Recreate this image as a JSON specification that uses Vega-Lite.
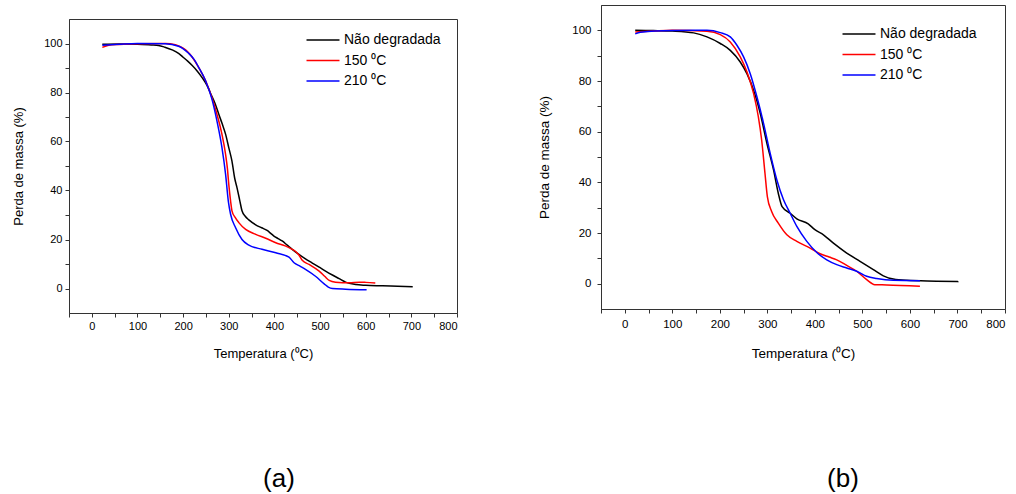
{
  "$schema": "https://vega.github.io/schema/vega-lite/v6.json",
  "padding": {"left": 12, "top": 3, "right": 5, "bottom": 0},
  "background": "white",
  "config": {
    "font": "Liberation Sans",
    "view": {"stroke": "#333", "strokeWidth": 1},
    "axis": {"domainColor": "#333", "tickColor": "#333", "labelColor": "#000", "titleColor": "#000", "labelFontSize": 11, "titleFontSize": 13, "titleFontWeight": "normal", "tickSize": 4, "grid": false, "labelPadding": 3},
    "legend": {"labelFontSize": 14, "labelColor": "#000"},
    "title": {"fontWeight": "normal", "color": "#000"}
  },
  "datasets": {
    "a": [
      {"t": 23, "m": 99.7, "s": "Não degradada"}, {"t": 60, "m": 99.8, "s": "Não degradada"}, {"t": 100, "m": 99.7, "s": "Não degradada"}, {"t": 130, "m": 99.4, "s": "Não degradada"}, {"t": 146, "m": 99.2, "s": "Não degradada"}, {"t": 160, "m": 98.5, "s": "Não degradada"}, {"t": 176, "m": 97.4, "s": "Não degradada"}, {"t": 190, "m": 96, "s": "Não degradada"}, {"t": 200, "m": 94.4, "s": "Não degradada"}, {"t": 210, "m": 92.8, "s": "Não degradada"}, {"t": 220, "m": 91, "s": "Não degradada"}, {"t": 232, "m": 88.5, "s": "Não degradada"}, {"t": 242, "m": 86, "s": "Não degradada"}, {"t": 252, "m": 83, "s": "Não degradada"}, {"t": 260, "m": 79.7, "s": "Não degradada"}, {"t": 270, "m": 75.5, "s": "Não degradada"}, {"t": 278, "m": 71.2, "s": "Não degradada"}, {"t": 286, "m": 67, "s": "Não degradada"}, {"t": 293, "m": 63, "s": "Não degradada"}, {"t": 300, "m": 57.5, "s": "Não degradada"}, {"t": 307, "m": 52, "s": "Não degradada"}, {"t": 313, "m": 45, "s": "Não degradada"}, {"t": 318, "m": 41.2, "s": "Não degradada"}, {"t": 324, "m": 36, "s": "Não degradada"}, {"t": 329, "m": 31.7, "s": "Não degradada"}, {"t": 336, "m": 29.5, "s": "Não degradada"}, {"t": 344, "m": 28, "s": "Não degradada"}, {"t": 359, "m": 26, "s": "Não degradada"}, {"t": 372, "m": 24.8, "s": "Não degradada"}, {"t": 384, "m": 23.7, "s": "Não degradada"}, {"t": 392, "m": 22.5, "s": "Não degradada"}, {"t": 399, "m": 21.4, "s": "Não degradada"}, {"t": 408, "m": 20.4, "s": "Não degradada"}, {"t": 417, "m": 19.4, "s": "Não degradada"}, {"t": 428, "m": 17.7, "s": "Não degradada"}, {"t": 439, "m": 16, "s": "Não degradada"}, {"t": 453, "m": 14, "s": "Não degradada"}, {"t": 468, "m": 12.1, "s": "Não degradada"}, {"t": 483, "m": 10.4, "s": "Não degradada"}, {"t": 498, "m": 8.7, "s": "Não degradada"}, {"t": 512, "m": 7.1, "s": "Não degradada"}, {"t": 527, "m": 5.5, "s": "Não degradada"}, {"t": 542, "m": 4, "s": "Não degradada"}, {"t": 556, "m": 2.6, "s": "Não degradada"}, {"t": 567, "m": 2, "s": "Não degradada"}, {"t": 578, "m": 1.6, "s": "Não degradada"}, {"t": 600, "m": 1.3, "s": "Não degradada"}, {"t": 637, "m": 1.1, "s": "Não degradada"}, {"t": 670, "m": 0.9, "s": "Não degradada"}, {"t": 703, "m": 0.7, "s": "Não degradada"},
      {"t": 23, "m": 98.4, "s": "150 ⁰C"}, {"t": 37, "m": 99.3, "s": "150 ⁰C"}, {"t": 60, "m": 99.6, "s": "150 ⁰C"}, {"t": 100, "m": 99.9, "s": "150 ⁰C"}, {"t": 161, "m": 100, "s": "150 ⁰C"}, {"t": 183, "m": 99.5, "s": "150 ⁰C"}, {"t": 200, "m": 98.1, "s": "150 ⁰C"}, {"t": 210, "m": 96.6, "s": "150 ⁰C"}, {"t": 220, "m": 94.4, "s": "150 ⁰C"}, {"t": 234, "m": 90.3, "s": "150 ⁰C"}, {"t": 249, "m": 84.9, "s": "150 ⁰C"}, {"t": 263, "m": 78, "s": "150 ⁰C"}, {"t": 274, "m": 71.2, "s": "150 ⁰C"}, {"t": 285, "m": 63, "s": "150 ⁰C"}, {"t": 293, "m": 54.8, "s": "150 ⁰C"}, {"t": 297, "m": 49, "s": "150 ⁰C"}, {"t": 300, "m": 42.6, "s": "150 ⁰C"}, {"t": 304, "m": 35.7, "s": "150 ⁰C"}, {"t": 307, "m": 31.7, "s": "150 ⁰C"}, {"t": 314, "m": 29, "s": "150 ⁰C"}, {"t": 322, "m": 26.9, "s": "150 ⁰C"}, {"t": 337, "m": 24.1, "s": "150 ⁰C"}, {"t": 359, "m": 22.1, "s": "150 ⁰C"}, {"t": 381, "m": 20.5, "s": "150 ⁰C"}, {"t": 403, "m": 18.7, "s": "150 ⁰C"}, {"t": 425, "m": 17.3, "s": "150 ⁰C"}, {"t": 439, "m": 16, "s": "150 ⁰C"}, {"t": 447, "m": 15, "s": "150 ⁰C"}, {"t": 454, "m": 13.6, "s": "150 ⁰C"}, {"t": 461, "m": 11.5, "s": "150 ⁰C"}, {"t": 476, "m": 9.8, "s": "150 ⁰C"}, {"t": 498, "m": 7.1, "s": "150 ⁰C"}, {"t": 510, "m": 5, "s": "150 ⁰C"}, {"t": 520, "m": 3.3, "s": "150 ⁰C"}, {"t": 534, "m": 2.6, "s": "150 ⁰C"}, {"t": 564, "m": 2.3, "s": "150 ⁰C"}, {"t": 586, "m": 2.6, "s": "150 ⁰C"}, {"t": 600, "m": 2.5, "s": "150 ⁰C"}, {"t": 621, "m": 2.2, "s": "150 ⁰C"},
      {"t": 23, "m": 99.3, "s": "210 ⁰C"}, {"t": 60, "m": 99.7, "s": "210 ⁰C"}, {"t": 100, "m": 100, "s": "210 ⁰C"}, {"t": 161, "m": 99.9, "s": "210 ⁰C"}, {"t": 190, "m": 98.9, "s": "210 ⁰C"}, {"t": 212, "m": 96, "s": "210 ⁰C"}, {"t": 224, "m": 93.5, "s": "210 ⁰C"}, {"t": 234, "m": 90.3, "s": "210 ⁰C"}, {"t": 249, "m": 84.9, "s": "210 ⁰C"}, {"t": 263, "m": 77.4, "s": "210 ⁰C"}, {"t": 274, "m": 68.5, "s": "210 ⁰C"}, {"t": 285, "m": 57.6, "s": "210 ⁰C"}, {"t": 293, "m": 46.7, "s": "210 ⁰C"}, {"t": 299, "m": 35.7, "s": "210 ⁰C"}, {"t": 304, "m": 30.3, "s": "210 ⁰C"}, {"t": 315, "m": 24.8, "s": "210 ⁰C"}, {"t": 329, "m": 20, "s": "210 ⁰C"}, {"t": 344, "m": 17.7, "s": "210 ⁰C"}, {"t": 373, "m": 16, "s": "210 ⁰C"}, {"t": 403, "m": 14.6, "s": "210 ⁰C"}, {"t": 432, "m": 12.8, "s": "210 ⁰C"}, {"t": 443, "m": 10.5, "s": "210 ⁰C"}, {"t": 456, "m": 9.1, "s": "210 ⁰C"}, {"t": 468, "m": 7.8, "s": "210 ⁰C"}, {"t": 490, "m": 5, "s": "210 ⁰C"}, {"t": 509, "m": 1.9, "s": "210 ⁰C"}, {"t": 518, "m": 0.6, "s": "210 ⁰C"}, {"t": 527, "m": 0, "s": "210 ⁰C"}, {"t": 556, "m": -0.3, "s": "210 ⁰C"}, {"t": 602, "m": -0.5, "s": "210 ⁰C"}
    ],
    "b": [
      {"t": 22, "m": 100, "s": "Não degradada"}, {"t": 60, "m": 99.9, "s": "Não degradada"}, {"t": 100, "m": 99.7, "s": "Não degradada"}, {"t": 145, "m": 99, "s": "Não degradada"}, {"t": 173, "m": 97.4, "s": "Não degradada"}, {"t": 201, "m": 94.8, "s": "Não degradada"}, {"t": 222, "m": 92.1, "s": "Não degradada"}, {"t": 243, "m": 87.5, "s": "Não degradada"}, {"t": 257, "m": 82.9, "s": "Não degradada"}, {"t": 271, "m": 76.4, "s": "Não degradada"}, {"t": 285, "m": 67.2, "s": "Não degradada"}, {"t": 299, "m": 55.4, "s": "Não degradada"}, {"t": 313, "m": 44.9, "s": "Não degradada"}, {"t": 323, "m": 35.7, "s": "Não degradada"}, {"t": 331, "m": 30.4, "s": "Não degradada"}, {"t": 348, "m": 27.8, "s": "Não degradada"}, {"t": 362, "m": 25.6, "s": "Não degradada"}, {"t": 386, "m": 23.6, "s": "Não degradada"}, {"t": 400, "m": 21.3, "s": "Não degradada"}, {"t": 418, "m": 19.3, "s": "Não degradada"}, {"t": 439, "m": 16, "s": "Não degradada"}, {"t": 467, "m": 12.1, "s": "Não degradada"}, {"t": 495, "m": 8.8, "s": "Não degradada"}, {"t": 523, "m": 5.5, "s": "Não degradada"}, {"t": 544, "m": 3.1, "s": "Não degradada"}, {"t": 565, "m": 1.8, "s": "Não degradada"}, {"t": 593, "m": 1.3, "s": "Não degradada"}, {"t": 656, "m": 1, "s": "Não degradada"}, {"t": 702, "m": 0.8, "s": "Não degradada"},
      {"t": 22, "m": 99.3, "s": "150 ⁰C"}, {"t": 61, "m": 99.7, "s": "150 ⁰C"}, {"t": 100, "m": 100, "s": "150 ⁰C"}, {"t": 173, "m": 99.6, "s": "150 ⁰C"}, {"t": 201, "m": 98.3, "s": "150 ⁰C"}, {"t": 222, "m": 95.4, "s": "150 ⁰C"}, {"t": 243, "m": 89.5, "s": "150 ⁰C"}, {"t": 257, "m": 83.6, "s": "150 ⁰C"}, {"t": 271, "m": 75.1, "s": "150 ⁰C"}, {"t": 281, "m": 65.9, "s": "150 ⁰C"}, {"t": 288, "m": 56.7, "s": "150 ⁰C"}, {"t": 295, "m": 43.6, "s": "150 ⁰C"}, {"t": 300, "m": 34.4, "s": "150 ⁰C"}, {"t": 309, "m": 28.5, "s": "150 ⁰C"}, {"t": 323, "m": 23.9, "s": "150 ⁰C"}, {"t": 341, "m": 19.3, "s": "150 ⁰C"}, {"t": 362, "m": 16.7, "s": "150 ⁰C"}, {"t": 390, "m": 14, "s": "150 ⁰C"}, {"t": 411, "m": 11.8, "s": "150 ⁰C"}, {"t": 430, "m": 10.5, "s": "150 ⁰C"}, {"t": 446, "m": 9.4, "s": "150 ⁰C"}, {"t": 467, "m": 7.2, "s": "150 ⁰C"}, {"t": 488, "m": 4.9, "s": "150 ⁰C"}, {"t": 509, "m": 1.6, "s": "150 ⁰C"}, {"t": 526, "m": -0.4, "s": "150 ⁰C"}, {"t": 551, "m": -0.5, "s": "150 ⁰C"}, {"t": 621, "m": -1, "s": "150 ⁰C"},
      {"t": 22, "m": 98.6, "s": "210 ⁰C"}, {"t": 33, "m": 99.2, "s": "210 ⁰C"}, {"t": 100, "m": 99.9, "s": "210 ⁰C"}, {"t": 173, "m": 100, "s": "210 ⁰C"}, {"t": 201, "m": 99.1, "s": "210 ⁰C"}, {"t": 222, "m": 97.4, "s": "210 ⁰C"}, {"t": 236, "m": 94.1, "s": "210 ⁰C"}, {"t": 250, "m": 89.5, "s": "210 ⁰C"}, {"t": 264, "m": 82.9, "s": "210 ⁰C"}, {"t": 278, "m": 73.8, "s": "210 ⁰C"}, {"t": 292, "m": 63.3, "s": "210 ⁰C"}, {"t": 306, "m": 51.4, "s": "210 ⁰C"}, {"t": 320, "m": 40.9, "s": "210 ⁰C"}, {"t": 334, "m": 33.1, "s": "210 ⁰C"}, {"t": 348, "m": 27.8, "s": "210 ⁰C"}, {"t": 362, "m": 22.6, "s": "210 ⁰C"}, {"t": 383, "m": 16.7, "s": "210 ⁰C"}, {"t": 404, "m": 12.3, "s": "210 ⁰C"}, {"t": 425, "m": 9.4, "s": "210 ⁰C"}, {"t": 446, "m": 7.5, "s": "210 ⁰C"}, {"t": 467, "m": 6.2, "s": "210 ⁰C"}, {"t": 488, "m": 4.9, "s": "210 ⁰C"}, {"t": 509, "m": 2.9, "s": "210 ⁰C"}, {"t": 530, "m": 2, "s": "210 ⁰C"}, {"t": 565, "m": 1.3, "s": "210 ⁰C"}, {"t": 621, "m": 1.2, "s": "210 ⁰C"}
    ]
  },
  "spacing": 79,
  "resolve": {"scale": {"color": "independent"}, "legend": {"color": "independent"}},
  "hconcat": [
    {
      "spacing": 8,
      "vconcat": [
        {
          "width": 388,
          "height": 3,
          "data": {"values": [{"t": 0}]},
          "view": {"stroke": null},
          "mark": {"type": "point", "opacity": 0},
          "encoding": {}
        },
        {
          "width": 388,
          "height": 294,
          "data": {"name": "a"},
          "title": {"text": "(a)", "orient": "bottom", "fontSize": 26, "offset": 106, "dx": 16, "frame": "group", "anchor": "middle"},
          "mark": {"type": "line", "strokeWidth": 1.5, "interpolate": "monotone"},
          "encoding": {
            "x": {"field": "t", "type": "quantitative", "scale": {"domain": [-50, 800], "nice": false, "zero": false},
              "axis": {"title": "Temperatura (⁰C)", "titlePadding": 16, "values": [-50, 0, 50, 100, 150, 200, 250, 300, 350, 400, 450, 500, 550, 600, 650, 700, 750, 800], "labelExpr": "datum.value % 100 === 0 ? datum.label : ''"}},
            "y": {"field": "m", "type": "quantitative", "scale": {"domain": [-10, 110], "nice": false, "zero": false},
              "axis": {"title": "Perda de massa (%)", "titlePadding": 18, "values": [0, 10, 20, 30, 40, 50, 60, 70, 80, 90, 100], "labelExpr": "datum.value % 20 === 0 ? datum.label : ''"}},
            "color": {"field": "s", "type": "nominal",
              "scale": {"domain": ["Não degradada", "150 ⁰C", "210 ⁰C"], "range": ["#000000", "#ff0000", "#0000ff"]},
              "legend": {"title": null, "orient": "none", "legendX": 245, "legendY": 26, "symbolType": "M-2,0H2", "symbolSize": 272, "symbolStrokeWidth": 1.5, "rowPadding": 4.5, "labelOffset": 12}}
          }
        }
      ]
    },
    {
      "width": 404,
      "height": 304,
      "data": {"name": "b"},
      "title": {"text": "(b)", "orient": "bottom", "fontSize": 26, "offset": 106, "dx": 40, "frame": "group", "anchor": "middle"},
      "mark": {"type": "line", "strokeWidth": 1.5, "interpolate": "monotone"},
      "encoding": {
        "x": {"field": "t", "type": "quantitative", "scale": {"domain": [-50, 800], "nice": false, "zero": false},
          "axis": {"title": "Temperatura (⁰C)", "titlePadding": 17, "labelPadding": 5, "labelFontSize": 11.5, "titleFontSize": 13.5, "values": [-50, 0, 50, 100, 150, 200, 250, 300, 350, 400, 450, 500, 550, 600, 650, 700, 750, 800], "labelExpr": "datum.value % 100 === 0 ? datum.label : ''"}},
        "y": {"field": "m", "type": "quantitative", "scale": {"domain": [-10, 110], "nice": false, "zero": false},
          "axis": {"title": "Perda de massa (%)", "titlePadding": 20, "labelPadding": 6, "labelFontSize": 11.5, "titleFontSize": 13.5, "values": [0, 10, 20, 30, 40, 50, 60, 70, 80, 90, 100], "labelExpr": "datum.value % 20 === 0 ? datum.label : ''"}},
        "color": {"field": "s", "type": "nominal",
          "scale": {"domain": ["Não degradada", "150 ⁰C", "210 ⁰C"], "range": ["#000000", "#ff0000", "#0000ff"]},
          "legend": {"title": null, "orient": "none", "legendX": 249, "legendY": 20, "symbolType": "M-2,0H2", "symbolSize": 272, "symbolStrokeWidth": 1.5, "rowPadding": 4.5, "labelOffset": 12}}
      }
    }
  ]
}
